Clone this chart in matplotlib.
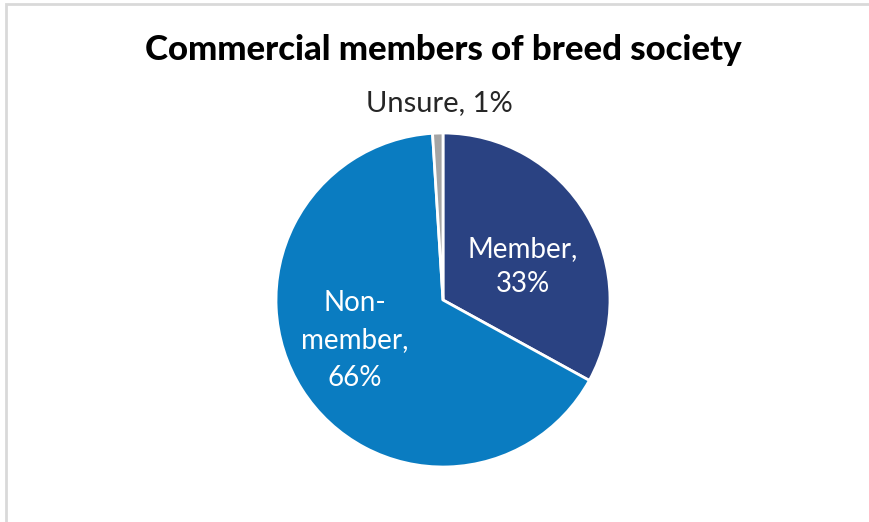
import matplotlib
matplotlib.use('Agg')
import matplotlib.pyplot as plt
from matplotlib.patches import Rectangle

# Survey answers
labels = ['Member', 'Non-member', 'Unsure']
shares = [33, 66, 1]
colors = ['#2a4282', '#0a7cc1', '#a5a5a5']

plt.rcParams['font.family'] = ['Lato', 'DejaVu Sans']

fig = plt.figure(figsize=(8.7, 5.22), dpi=100)

# light grey chart frame
fig.patches.append(Rectangle((6 / 870, -0.1), 1.1, (522 - 4) / 522 + 0.1,
                             transform=fig.transFigure, fill=False,
                             edgecolor='#d9d9d9', linewidth=2))

cx, cy, r = 443, 300, 167
ax = fig.add_axes([(cx - r) / 870, (522 - cy - r) / 522, 2 * r / 870, 2 * r / 522])
ax.pie(shares, colors=colors, startangle=90, counterclock=False,
       wedgeprops=dict(edgecolor='white', linewidth=2))
ax.set_xlim(-1, 1)
ax.set_ylim(-1, 1)

ax.text(0.48, 0.2, 'Member,\n33%', color='white', fontsize=20,
        ha='center', va='center', linespacing=1.45)
ax.text(-0.53, -0.24, 'Non-\nmember,\n66%', color='white', fontsize=20,
        ha='center', va='center', linespacing=1.55)
ax.text(-0.02, 1.18, 'Unsure, 1%', color='#262626', fontsize=21,
        ha='center', va='center')

fig.text(443 / 870, 1 - 50 / 522, 'Commercial members of breed society',
         fontsize=25, fontweight='black', ha='center', va='center')

fig.savefig('out.png', dpi=100)
